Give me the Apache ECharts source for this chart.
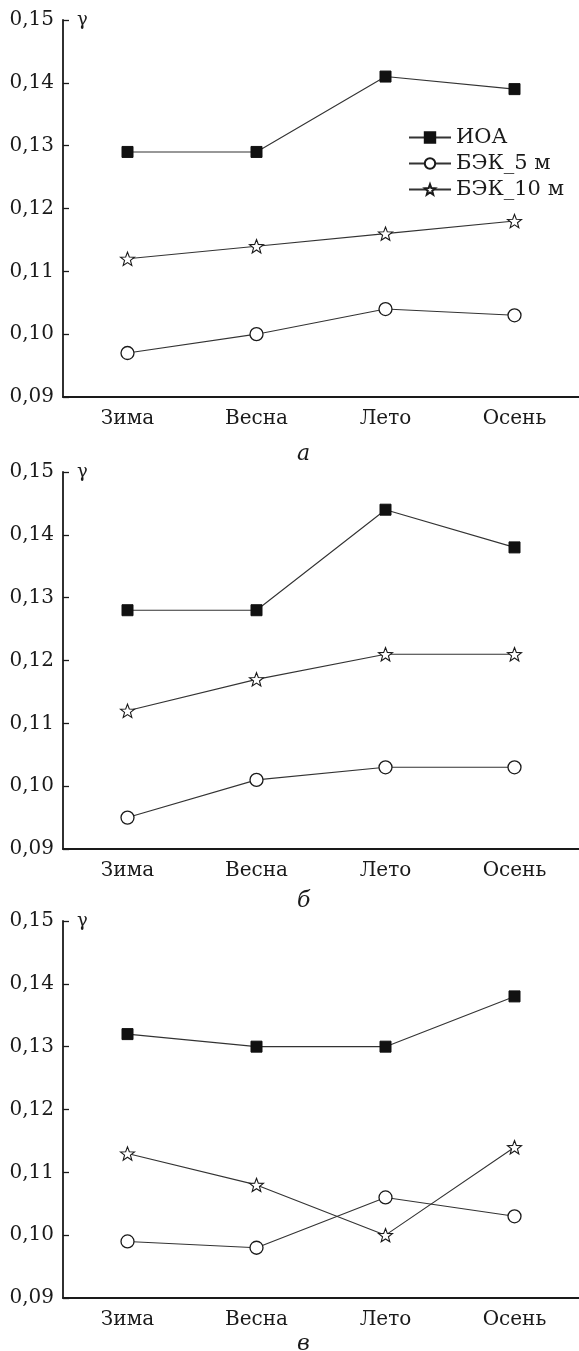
<!DOCTYPE html>
<html lang="ru">
<head>
    <meta charset="UTF-8">
    <script src="https://cdn.jsdelivr.net/npm/echarts@6/dist/echarts.min.js"></script>
    <title>γ по сезонам</title>
</head>
<body>
    <style>
        html, body { margin: 0; background: #fff; }
        #main { width: 579px; height: 1351px; }
    </style>
    <div id="main"></div>
    <script>
        // categories and values
        var seasons = ['Зима', 'Весна', 'Лето', 'Осень'];
        var names = ['ИОА', 'БЭК_5 м', 'БЭК_10 м'];
        var panelLabels = ['а', 'б', 'в'];
        var yTicks = [0.09, 0.15, 0.01]; // min, max, step

        var ioaA = [0.129, 0.129, 0.141, 0.139];
        var bek5A = [0.097, 0.100, 0.104, 0.103];
        var bek10A = [0.112, 0.114, 0.116, 0.118];

        var ioaB = [0.128, 0.128, 0.144, 0.138];
        var bek5B = [0.095, 0.101, 0.103, 0.103];
        var bek10B = [0.112, 0.117, 0.121, 0.121];

        var ioaV = [0.132, 0.130, 0.130, 0.138];
        var bek5V = [0.099, 0.098, 0.106, 0.103];
        var bek10V = [0.113, 0.108, 0.100, 0.114];

        var panels = [
            [ioaA, bek5A, bek10A],
            [ioaB, bek5B, bek10B],
            [ioaV, bek5V, bek10V]
        ];

        var FONT = 'DejaVu Serif';
        var INK = '#1a1a1a';
        var STAR = 'path://M50 0 L62.34 33.01 L97.55 34.55 L69.97 56.49 L79.39 90.45 L50 71 L20.61 90.45 L30.03 56.49 L2.45 34.55 L37.66 33.01 Z';

        var gridTops = [20, 472, 921];
        var gridH = 377;
        var subY = [438, 885, 1328];

        var markers = [
            { symbol: 'rect', symbolSize: 11, itemStyle: { color: '#111', borderColor: '#111', borderWidth: 1 } },
            { symbol: 'circle', symbolSize: 13, itemStyle: { color: '#fff', borderColor: INK, borderWidth: 1.3 } },
            { symbol: STAR, symbolSize: 14, symbolKeepAspect: true, itemStyle: { color: '#fff', borderColor: INK, borderWidth: 1.1 } }
        ];

        var grids = [], xAxes = [], yAxes = [], series = [], titles = [];
        panels.forEach(function (p, i) {
            grids.push({ left: 63, right: 0, top: gridTops[i], height: gridH });
            xAxes.push({
                type: 'category',
                gridIndex: i,
                data: seasons,
                boundaryGap: true,
                axisLine: { lineStyle: { color: INK, width: 1.8 } },
                axisTick: { inside: true, alignWithLabel: true, length: 7, lineStyle: { color: INK, width: 1.3 } },
                axisLabel: { fontFamily: FONT, fontSize: 20, color: INK, margin: 12 }
            });
            yAxes.push({
                type: 'value',
                gridIndex: i,
                min: yTicks[0],
                max: yTicks[1],
                interval: yTicks[2],
                name: 'γ',
                nameLocation: 'end',
                nameGap: 0,
                nameTextStyle: { fontFamily: FONT, fontSize: 18, color: INK, align: 'left', verticalAlign: 'middle', padding: [0, 0, 0, 14] },
                splitLine: { show: false },
                axisLine: { show: true, lineStyle: { color: INK, width: 1.8 } },
                axisTick: { show: true, inside: true, length: 6, lineStyle: { color: INK, width: 1.3 } },
                axisLabel: {
                    fontFamily: FONT, fontSize: 20, color: INK, margin: 9,
                    formatter: function (v) { return v.toFixed(2).replace('.', ','); }
                }
            });
            p.forEach(function (vals, k) {
                series.push(Object.assign({
                    name: names[k],
                    type: 'line',
                    xAxisIndex: i,
                    yAxisIndex: i,
                    data: vals,
                    lineStyle: { color: '#333', width: 1.1 },
                    z: 3 + k
                }, markers[k]));
            });
            titles.push({
                text: panelLabels[i],
                left: 292,
                top: subY[i],
                textStyle: { fontFamily: FONT, fontStyle: 'italic', fontWeight: 'normal', fontSize: 22, color: INK }
            });
        });

        var chart = echarts.init(document.getElementById('main'), null, { renderer: 'canvas' });
        chart.setOption({
            animation: false,
            backgroundColor: '#fff',
            title: titles,
            legend: {
                data: names,
                orient: 'vertical',
                left: 403,
                top: 122,
                itemWidth: 42,
                itemHeight: 13,
                itemGap: 5,
                textStyle: { fontFamily: FONT, fontSize: 21, color: INK }
            },
            grid: grids,
            xAxis: xAxes,
            yAxis: yAxes,
            series: series
        });
    </script>
</body>
</html>
